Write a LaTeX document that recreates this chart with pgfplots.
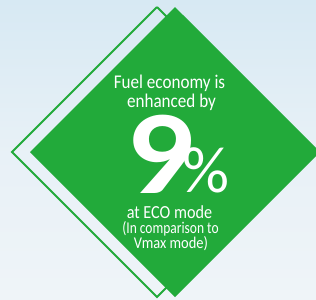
\documentclass[border=0pt]{standalone}
\usepackage{pgfplots}
\pgfplotsset{compat=1.18}
\usepackage{fontspec}
\setmainfont{Carlito}
\definecolor{grn}{HTML}{22AA3A}
\definecolor{skytop}{HTML}{D7E9F3}
\definecolor{skybot}{HTML}{EFF4F8}
\begin{document}
\begin{tikzpicture}
\begin{axis}[name=ax, scale only axis, width=316bp, height=300bp,
  xmin=0, xmax=316, ymin=0, ymax=300, y dir=reverse, hide axis, clip=true]
\fill[top color=skytop, bottom color=skybot, middle color=skybot!70!skytop] (axis cs:0,0) rectangle (axis cs:316,300);
% outline diamond
\addplot[draw=grn, line width=1.8bp, fill=none] coordinates {(157,7) (302,152) (157,297) (12,152) (157,7)};
% filled diamond
\addplot[draw=none, fill=grn] coordinates {(175,7) (320,152) (175,297) (30,152) (175,7)};
\tikzset{tx/.style={white, inner sep=0pt, anchor=base}}
\node[tx, font=\fontsize{19.5}{20}\selectfont, xscale=0.88] at (axis cs:169.5,88) {Fuel economy is};
\node[tx, font=\fontsize{19.5}{20}\selectfont, xscale=0.88] at (axis cs:171.5,107) {enhanced by};
\node[tx, font=\fontsize{120}{120}\selectfont\bfseries, xscale=1.12] at (axis cs:160,193) {9};
\node[tx, font=\fontsize{66}{66}\selectfont] at (axis cs:206,192) {\%};
\node[tx, font=\fontsize{18.5}{20}\selectfont, xscale=0.88] at (axis cs:169.5,218) {at ECO mode};
\node[tx, font=\fontsize{16.5}{18}\selectfont, xscale=0.82] at (axis cs:170.5,233) {(In comparison to};
\node[tx, font=\fontsize{16.5}{18}\selectfont, xscale=0.88] at (axis cs:171,248) {Vmax mode)};
\end{axis}
\pgfresetboundingbox
\path[use as bounding box] (ax.south west) rectangle (ax.north east);
\end{tikzpicture}
\end{document}
